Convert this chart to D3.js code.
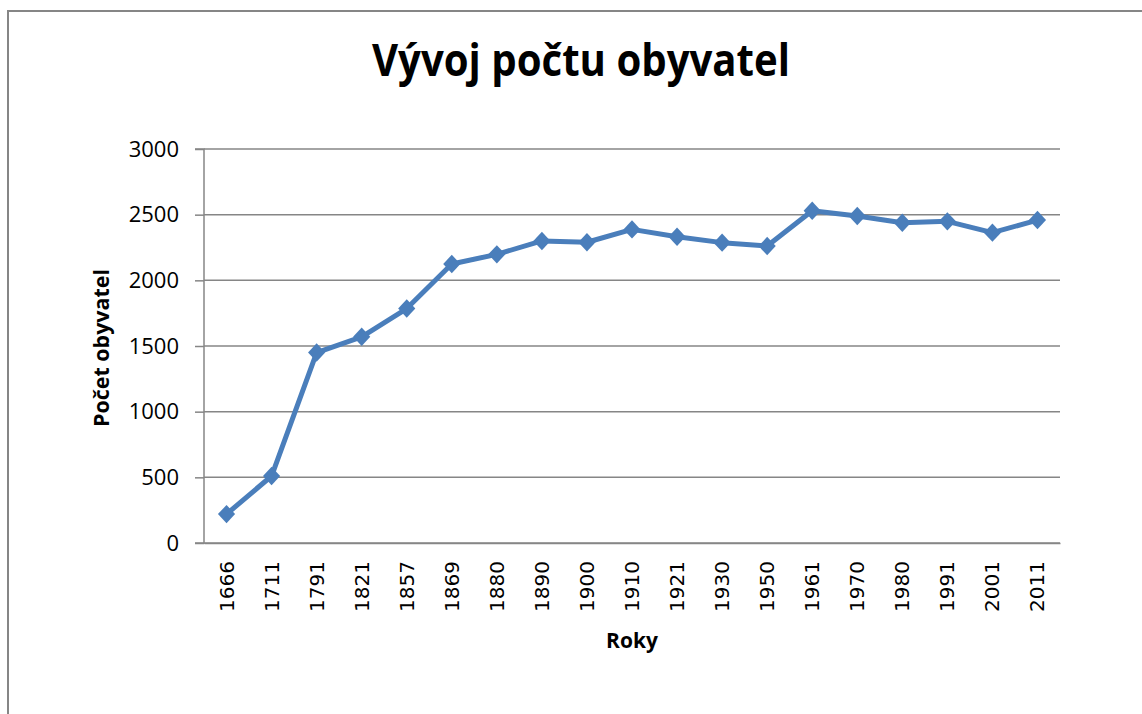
<!DOCTYPE html>
<html>
<head>
<meta charset="utf-8">
<script src="https://cdn.jsdelivr.net/npm/d3@7"></script>
<style>
  body { margin: 0; background: #fff; }
</style>
</head>
<body>
<div id="chart"></div>
<script>
// data
const years = ["1666", "1711", "1791", "1821", "1857", "1869", "1880", "1890", "1900", "1910",
    "1921", "1930", "1950", "1961", "1970", "1980", "1991", "2001", "2011"];
const population = [220, 510, 1450, 1570, 1785, 2124, 2198, 2300, 2290, 2388,
    2332, 2287, 2261, 2530, 2490, 2439, 2449, 2363, 2459];
const yTicks = [0, 500, 1000, 1500, 2000, 2500, 3000];

const W = 1142, H = 714;
const margin = {top: 149, right: 82, bottom: 171, left: 204},
    width = W - margin.left - margin.right,
    height = H - margin.top - margin.bottom;

const svg = d3.select("#chart")
    .append("svg")
    .attr("width", W)
    .attr("height", H);

// outer chart frame
svg.append("rect")
    .attr("x", 8).attr("y", 11)
    .attr("width", W + 20).attr("height", H + 20)
    .attr("fill", "none")
    .attr("stroke", "#868686")
    .attr("stroke-width", 2);

svg.append("text")
    .attr("x", 581).attr("y", 76)
    .attr("text-anchor", "middle")
    .attr("font-family", "'Open Sans', sans-serif")
    .attr("font-weight", "bold")
    .attr("font-size", 44)
    .attr("textLength", 418)
    .attr("lengthAdjust", "spacingAndGlyphs")
    .text("Vývoj počtu obyvatel");

const g = svg.append("g")
    .attr("transform", `translate(${margin.left},${margin.top})`);

const x = d3.scaleBand()
    .domain(years)
    .range([0, width]);

const y = d3.scaleLinear()
    .domain([0, 3000])
    .range([height, 0]);

// horizontal gridlines
g.append("g")
    .selectAll("line")
    .data(yTicks)
    .join("line")
    .attr("x1", 0).attr("x2", width)
    .attr("y1", d => y(d)).attr("y2", d => y(d))
    .attr("stroke", "#868686")
    .attr("stroke-width", 1.5);

// y axis
g.append("g")
    .call(d3.axisLeft(y).tickValues(yTicks).tickFormat(d3.format("d")).tickSize(9).tickPadding(16))
    .call(a => a.selectAll("line, path").attr("stroke", "#868686").attr("stroke-width", 1.5))
    .call(a => a.select(".domain").attr("d", `M-9,${height}H0V0H-9`))
    .call(a => a.selectAll("text")
        .attr("font-family", "'Open Sans', sans-serif")
        .attr("font-size", 22)
        .attr("fill", "#000"));

// x axis
g.append("g")
    .attr("transform", `translate(0,${height})`)
    .call(d3.axisBottom(x).tickSize(0).tickPadding(0))
    .call(a => a.select(".domain").attr("stroke", "#868686").attr("stroke-width", 1.5))
    .call(a => a.selectAll("text")
        .attr("font-family", "'DejaVu Sans', sans-serif")
        .attr("font-size", 20)
        .attr("fill", "#000")
        .attr("text-anchor", "end")
        .attr("dy", "0.35em")
        .attr("transform", "translate(0,18) rotate(-90)"));

// axis titles
svg.append("text")
    .attr("x", margin.left + width / 2).attr("y", 648)
    .attr("text-anchor", "middle")
    .attr("font-family", "'Open Sans', sans-serif")
    .attr("font-weight", "bold")
    .attr("font-size", 21)
    .text("Roky");

svg.append("text")
    .attr("transform", `translate(109,${margin.top + height / 2 + 2}) rotate(-90)`)
    .attr("text-anchor", "middle")
    .attr("font-family", "'Open Sans', sans-serif")
    .attr("font-weight", "bold")
    .attr("font-size", 21)
    .attr("textLength", 158)
    .attr("lengthAdjust", "spacingAndGlyphs")
    .text("Počet obyvatel");

const cx = d => x(d) + x.bandwidth() / 2;

const line = d3.line()
    .x((d, i) => cx(years[i]))
    .y(d => y(d));

g.append("path")
    .datum(population)
    .attr("fill", "none")
    .attr("stroke", "#4a7ebb")
    .attr("stroke-width", 5)
    .attr("stroke-linejoin", "round")
    .attr("d", line);

g.selectAll(".pt")
    .data(population)
    .join("path")
    .attr("class", "pt")
    .attr("d", d3.symbol(d3.symbolDiamond2, 150))
    .attr("transform", (d, i) => `translate(${cx(years[i])},${y(d)}) scale(1.12,1.2)`)
    .attr("fill", "#4a7ebb");
</script>
</body>
</html>
